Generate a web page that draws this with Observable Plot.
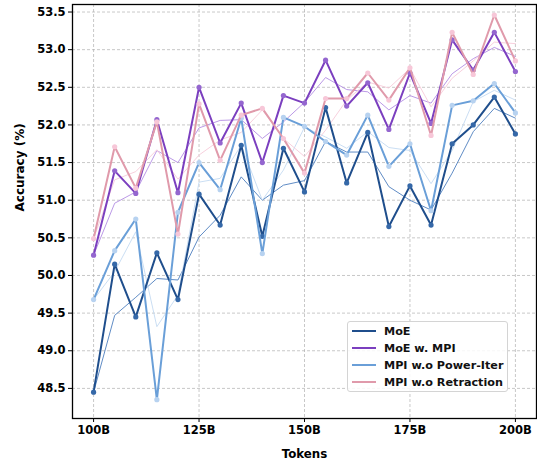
<!DOCTYPE html>
<html>
<head>
<meta charset="utf-8">
<script src="https://cdn.jsdelivr.net/npm/d3@7"></script>
<script src="https://cdn.jsdelivr.net/npm/@observablehq/plot@0.6"></script>
<style>
  body { margin: 0; background: #fff; }
  #wrap { position: relative; width: 537px; height: 459px; font-family: "DejaVu Sans", sans-serif; }
  #legend { position: absolute; left: 347px; top: 321px; width: 161px; height: 71px; box-sizing: border-box;
            border: 1px solid #d4d4d4; border-radius: 3px; background: rgba(255,255,255,0.85); }
  .row { position: absolute; left: 0; height: 17px; width: 100%; }
  .sw { position: absolute; left: 4px; top: 7.5px; width: 24px; height: 2px; }
  .lab { position: absolute; left: 36px; top: 0; line-height: 17px; font-size: 11.2px; font-weight: bold; color: #111; white-space: nowrap; }
</style>
</head>
<body>
<div id="wrap"></div>
<script>
// ---- data ----
const tokens = [100,105,110,115,120,125,130,135,140,145,150,155,160,165,170,175,180,185,190,195,200];
const seriesNames = ["MoE", "MoE w. MPI", "MPI w.o Power-Iter", "MPI w.o Retraction"];

const moe        = [48.45,50.15,49.45,50.30,49.68,51.08,50.67,51.73,50.52,51.69,51.11,52.23,51.23,51.90,50.65,51.19,50.67,51.75,52.00,52.37,51.88];
const moeMpi     = [50.27,51.39,51.09,52.07,51.10,52.50,51.76,52.29,51.50,52.39,52.29,52.86,52.25,52.56,51.94,52.69,52.02,53.13,52.73,53.23,52.71];
const powerIter  = [49.68,50.33,50.75,48.35,50.84,51.50,51.14,52.09,50.29,52.10,51.98,51.78,51.60,52.13,51.45,51.75,50.86,52.26,52.32,52.55,52.16];
const retraction = [50.49,51.71,51.16,52.04,50.55,52.28,51.53,52.13,52.22,51.82,51.36,52.35,52.35,52.69,52.33,52.76,51.86,53.23,52.67,53.46,52.85];

// faint trend lines
const moeTrend        = [48.45,49.47,49.71,49.96,49.94,50.51,50.80,51.31,51.00,51.20,51.26,51.78,51.64,51.64,51.18,51.00,50.87,51.36,51.91,52.22,52.09];
const moeMpiTrend     = [50.27,50.96,51.11,51.66,51.50,51.96,52.06,52.07,51.82,52.04,52.30,52.63,52.47,52.44,52.20,52.39,52.29,52.68,52.88,53.03,52.91];
const powerIterTrend  = [49.68,50.05,50.58,49.32,49.74,51.24,51.29,51.73,51.00,51.40,51.97,51.84,51.69,51.91,51.70,51.66,51.22,51.66,52.31,52.46,52.33];
const retractionTrend = [50.49,51.27,51.38,51.67,51.28,51.60,51.80,51.90,52.20,51.82,51.58,51.93,52.33,52.57,52.49,52.75,52.24,52.62,52.85,53.10,53.08];

const xTicks = [100,125,150,175,200];
const yTicks = [48.5,49.0,49.5,50.0,50.5,51.0,51.5,52.0,52.5,53.0,53.5];

// ---- styles ----
const lineColors   = ["#1f4e8c", "#7b3fbf", "#6a9fd8", "#e09aab"];
const markerColors = ["#3568a8", "#9466cf", "#b7d2f0", "#f7c7d8"];
const trendColors  = ["#4f7fbf", "#b48ee3", "#c4daf2", "#f6cbd9"];

const values = [moe, moeMpi, powerIter, retraction];
const trends = [moeTrend, moeMpiTrend, powerIterTrend, retractionTrend];

const rows = (arr) => tokens.map((t, i) => ({x: t, y: arr[i]}));

const marks = [
  Plot.gridX(xTicks, {stroke: "#b0b0b0", strokeOpacity: 0.7, strokeDasharray: "3,2"}),
  Plot.gridY(yTicks, {stroke: "#b0b0b0", strokeOpacity: 0.7, strokeDasharray: "3,2"}),
];
trends.forEach((arr, k) => {
  marks.push(Plot.line(rows(arr), {x: "x", y: "y", stroke: trendColors[k], strokeWidth: 1, strokeOpacity: 0.9}));
});
values.forEach((arr, k) => {
  marks.push(Plot.line(rows(arr), {x: "x", y: "y", stroke: lineColors[k], strokeWidth: 2}));
  marks.push(Plot.dot(rows(arr), {x: "x", y: "y", fill: markerColors[k], r: 2.6}));
});
marks.push(
  Plot.axisX(xTicks, {tickFormat: d => d + "B", tickSize: 4, tickPadding: 3, label: null, fontSize: 11.5, fontWeight: "bold"}),
  Plot.axisY(yTicks, {tickFormat: d3.format(".1f"), tickSize: 4, tickPadding: 3, label: null, fontSize: 11.5, fontWeight: "bold"}),
  Plot.frame({stroke: "#000", strokeWidth: 1.3}),
  Plot.text(["Tokens"], {frameAnchor: "bottom", dy: 39, fontSize: 11.8, fontWeight: "bold", fill: "#000"}),
  Plot.text(["Accuracy (%)"], {frameAnchor: "left", rotate: -90, dx: -52, fontSize: 12, fontWeight: "bold", fill: "#000"})
);

const chart = Plot.plot({
  width: 537,
  height: 459,
  marginLeft: 72,
  marginRight: 1,
  marginTop: 4,
  marginBottom: 41,
  x: {type: "linear", domain: [95, 205]},
  y: {domain: [48.1, 53.6]},
  style: {fontFamily: "DejaVu Sans, sans-serif", fontSize: "11.5px", color: "#000", background: "#fff"},
  marks
});

const wrap = document.getElementById("wrap");
wrap.appendChild(chart);

// legend inside the plot area
const legend = document.createElement("div");
legend.id = "legend";
seriesNames.forEach((name, k) => {
  const row = document.createElement("div");
  row.className = "row";
  row.style.top = (0.5 + k * 17) + "px";
  const sw = document.createElement("div");
  sw.className = "sw";
  sw.style.background = lineColors[k];
  const lab = document.createElement("div");
  lab.className = "lab";
  lab.textContent = name;
  row.appendChild(sw);
  row.appendChild(lab);
  legend.appendChild(row);
});
wrap.appendChild(legend);
</script>
</body>
</html>
